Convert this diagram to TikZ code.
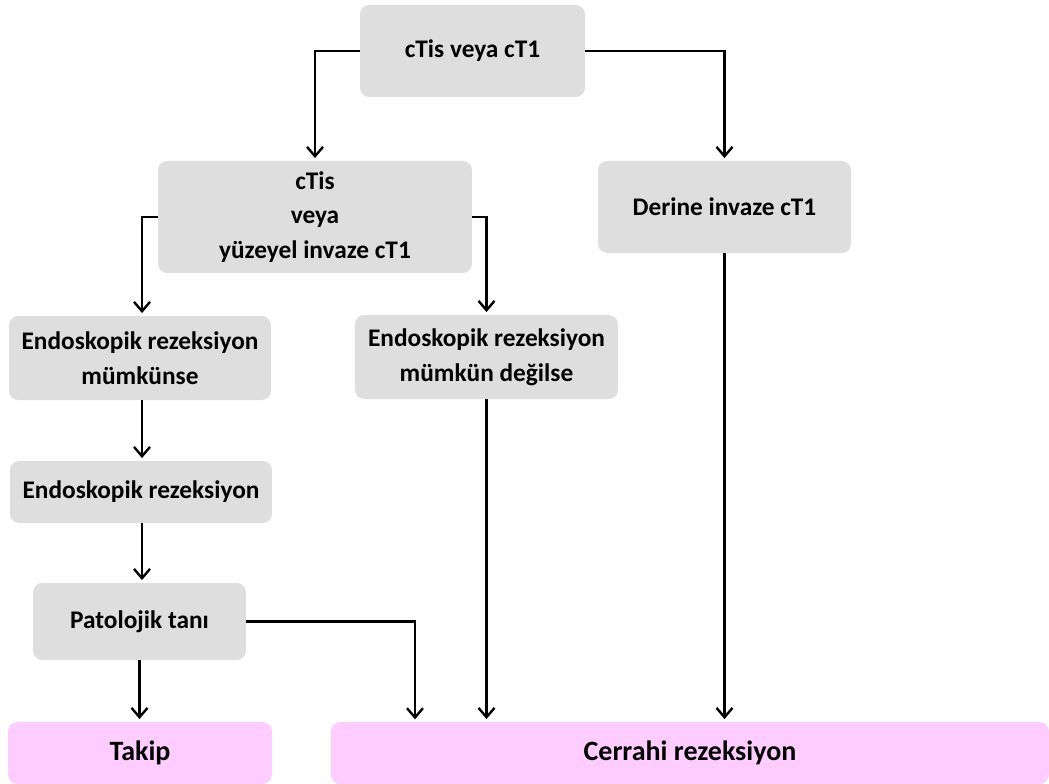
\documentclass[tikz,border=0pt]{standalone}
\usepackage{fontspec}
\setmainfont{Carlito}
\usetikzlibrary{arrows.meta,positioning}

\definecolor{boxgray}{HTML}{DEDEDE}
\definecolor{boxpink}{HTML}{FFCCFF}

\tikzset{
  stepbox/.style={rectangle, rounded corners=7pt, fill=boxgray, draw=none,
    align=center, font=\fontsize{19}{26}\selectfont\bfseries, inner sep=2pt},
  endbox/.style={stepbox, fill=boxpink, font=\fontsize{21}{26}\selectfont\bfseries},
  flow/.style={->, line width=2.2pt, shorten >=2pt}
}

\begin{document}
\begin{tikzpicture}[x=0.75pt, y=-0.75pt, >={Straight Barb[length=7pt,width=12pt,line width=1.8pt]}]

  \useasboundingbox (0,0) rectangle (1049,784);

  %--------------------------
  % Boxes
  %--------------------------
  \node[stepbox, minimum width=168.75pt, minimum height=69pt] (top) at (472.5,51) {cTis veya cT1};

  \node[stepbox, minimum width=235.5pt, minimum height=84pt] (yuzeyel) at (315,217)
    {cTis\\veya\\yüzeyel invaze cT1};
  \node[stepbox, minimum width=189.75pt, minimum height=69pt] (derine) at (724.5,207) {Derine invaze cT1};

  \node[stepbox, minimum width=196.5pt, minimum height=63pt] (mumkun) at (140,358)
    {Endoskopik rezeksiyon\\mümkünse};
  \node[stepbox, minimum width=197.25pt, minimum height=63pt] (degil) at (486.5,357)
    {Endoskopik rezeksiyon\\mümkün değilse};

  \node[stepbox, minimum width=196.5pt, minimum height=46.5pt] (rezeksiyon) at (141,492) {Endoskopik rezeksiyon};
  \node[stepbox, minimum width=159.75pt, minimum height=57.75pt] (patoloji) at (139.5,621.5) {Patolojik tanı};

  \node[endbox, minimum width=198pt, minimum height=46.5pt] (takip) at (140,753) {Takip};
  \node[endbox, minimum width=538.5pt, minimum height=46.5pt] (cerrahi) at (690,753) {Cerrahi rezeksiyon};

  % entry point on the surgery box
  \coordinate (patin) at (415,722);

  %--------------------------
  % Arrows
  %--------------------------
  \draw[flow] (top.west) -| (yuzeyel.north);
  \draw[flow] (top.east) -| (derine.north);

  \draw[flow] (yuzeyel.west) -| ([xshift=1.5pt]mumkun.north);
  \draw[flow] (yuzeyel.east) -| (degil.north);

  \draw[flow] ([xshift=1.5pt]mumkun.south) -- ([xshift=1.5pt]mumkun.south |- rezeksiyon.north);
  \draw[flow] ([xshift=0.75pt]rezeksiyon.south) -- ([xshift=0.75pt]rezeksiyon.south |- patoloji.north);
  \draw[flow] (patoloji.south) -- (patoloji.south |- takip.north);

  \draw[flow] (patoloji.east) -| (patin);
  \draw[flow] (degil.south) -- (degil.south |- cerrahi.north);
  \draw[flow] (derine.south) -- (derine.south |- cerrahi.north);

\end{tikzpicture}
\end{document}
